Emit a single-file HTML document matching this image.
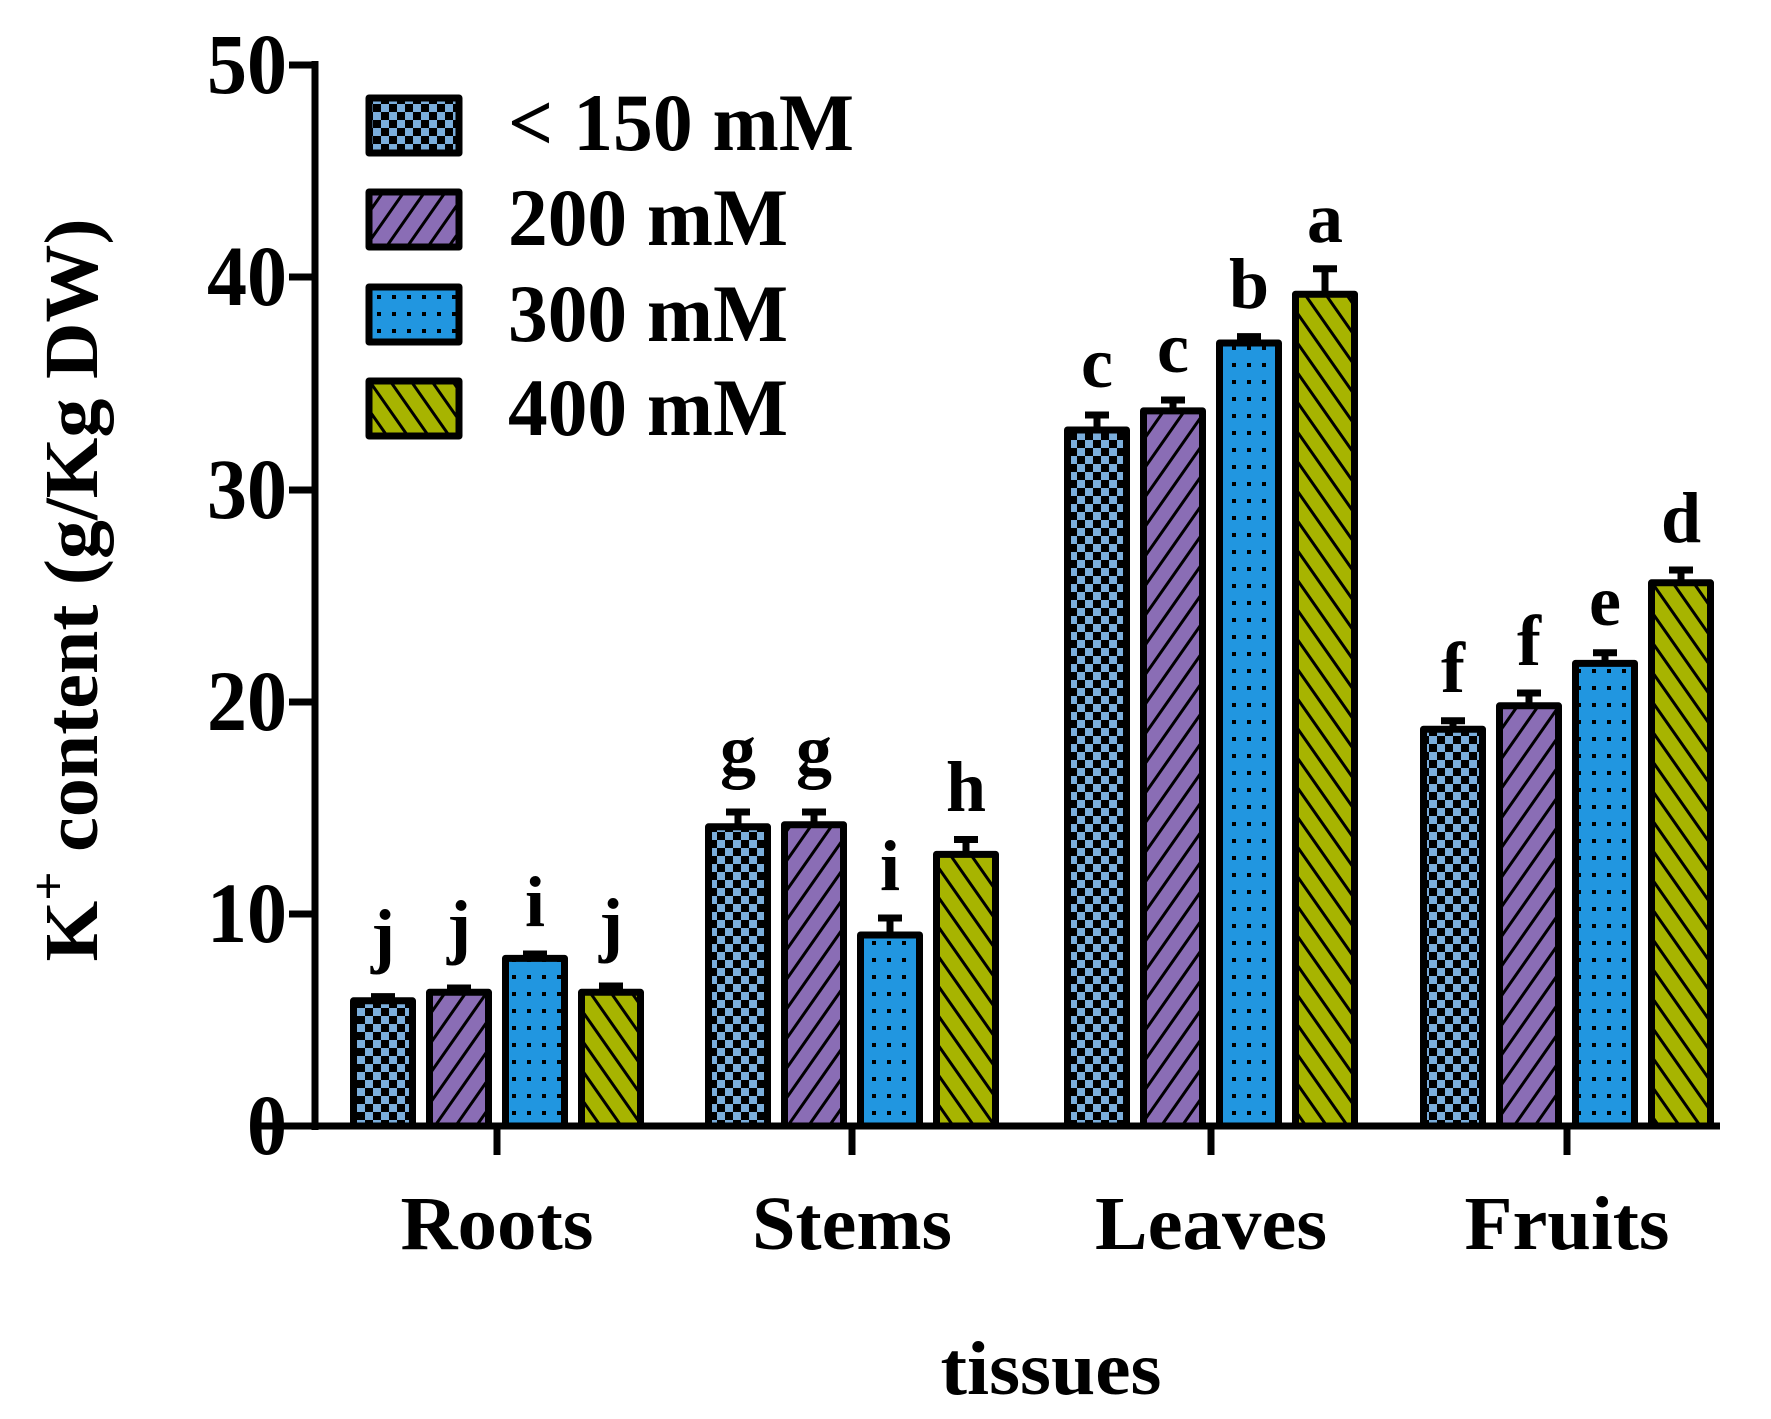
<!DOCTYPE html>
<html><head><meta charset="utf-8"><style>html,body{margin:0;padding:0;background:#fff}svg{display:block}</style></head><body>
<svg width="1771" height="1419" viewBox="0 0 1771 1419" xmlns="http://www.w3.org/2000/svg" font-family="'Liberation Serif',serif" font-weight="bold">
<defs>
<pattern id="chk" width="16" height="16" patternUnits="userSpaceOnUse"><rect width="16" height="16" fill="#7BAEDC"/><rect width="8" height="8" fill="#000"/><rect x="8" y="8" width="8" height="8" fill="#000"/></pattern>
<pattern id="fw" width="17" height="17" patternUnits="userSpaceOnUse" patternTransform="rotate(35)"><rect width="17" height="17" fill="#8A6DB5"/><rect width="3" height="17" fill="#000"/></pattern>
<pattern id="dot" width="15" height="17" patternUnits="userSpaceOnUse"><rect width="15" height="17" fill="#2196E0"/><rect x="5" y="6" width="4" height="4" fill="#000"/></pattern>
<pattern id="bw" width="17" height="17" patternUnits="userSpaceOnUse" patternTransform="rotate(-35)"><rect width="17" height="17" fill="#A7B400"/><rect width="3" height="17" fill="#000"/></pattern>
</defs>
<g transform="translate(-3,0)">
<g stroke="#000" stroke-width="7">
<line x1="318" y1="61" x2="318" y2="1130"/>
<line x1="260" y1="1126" x2="1723" y2="1126"/>
<line x1="292" y1="65" x2="318" y2="65"/>
<line x1="292" y1="277" x2="318" y2="277"/>
<line x1="292" y1="490" x2="318" y2="490"/>
<line x1="292" y1="702" x2="318" y2="702"/>
<line x1="292" y1="914" x2="318" y2="914"/>
<line x1="500" y1="1126" x2="500" y2="1155"/>
<line x1="855" y1="1126" x2="855" y2="1155"/>
<line x1="1214" y1="1126" x2="1214" y2="1155"/>
<line x1="1570" y1="1126" x2="1570" y2="1155"/>
</g>
<g font-size="86" text-anchor="end">
<text x="290" y="93" textLength="80" lengthAdjust="spacingAndGlyphs">50</text>
<text x="290" y="305" textLength="80" lengthAdjust="spacingAndGlyphs">40</text>
<text x="290" y="518" textLength="80" lengthAdjust="spacingAndGlyphs">30</text>
<text x="290" y="730" textLength="80" lengthAdjust="spacingAndGlyphs">20</text>
<text x="290" y="942" textLength="80" lengthAdjust="spacingAndGlyphs">10</text>
<text x="290" y="1154" textLength="40" lengthAdjust="spacingAndGlyphs">0</text>
</g>
<g stroke="#000" stroke-width="7" stroke-linejoin="round">
<path d="M386 1000V996.6M374 996.6H398M462 992V988M450 988H474M538 958V954M526 954H550M614 992V986M602 986H626
M741 826V812M729 812H753M817 824V812M805 812H829M893 935V918M881 918H905M969 854V839.5M957 839.5H981
M1100 430V415M1088 415H1112M1176 411V400M1164 400H1188M1252 343V336.6M1240 336.6H1264M1328 294V268.7M1316 268.7H1340
M1456 729V720.7M1444 720.7H1468M1532 706V693M1520 693H1544M1608 663V652.8M1596 652.8H1620M1684 583V570M1672 570H1696" fill="none"/>
<rect x="356.5" y="1000.8" width="59" height="125.2" fill="url(#chk)"/>
<rect x="432.5" y="992.3" width="59" height="133.7" fill="url(#fw)"/>
<rect x="508.5" y="958.4" width="59" height="167.6" fill="url(#dot)"/>
<rect x="584.5" y="992.3" width="59" height="133.7" fill="url(#bw)"/>
<rect x="711.5" y="826.8" width="59" height="299.2" fill="url(#chk)"/>
<rect x="787.5" y="824.7" width="59" height="301.3" fill="url(#fw)"/>
<rect x="863.5" y="935" width="59" height="191" fill="url(#dot)"/>
<rect x="939.5" y="854.4" width="59" height="271.6" fill="url(#bw)"/>
<rect x="1070.5" y="430" width="59" height="696" fill="url(#chk)"/>
<rect x="1146.5" y="410.9" width="59" height="715.1" fill="url(#fw)"/>
<rect x="1222.5" y="343" width="59" height="783" fill="url(#dot)"/>
<rect x="1298.5" y="294.2" width="59" height="831.8" fill="url(#bw)"/>
<rect x="1426.5" y="729.2" width="59" height="396.8" fill="url(#chk)"/>
<rect x="1502.5" y="705.8" width="59" height="420.2" fill="url(#fw)"/>
<rect x="1578.5" y="663.4" width="59" height="462.6" fill="url(#dot)"/>
<rect x="1654.5" y="582.8" width="59" height="543.2" fill="url(#bw)"/>
<rect x="372" y="98" width="90" height="55" fill="url(#chk)"/>
<rect x="372" y="192" width="90" height="55" fill="url(#fw)"/>
<rect x="372" y="287" width="90" height="55" fill="url(#dot)"/>
<rect x="372" y="381" width="90" height="55" fill="url(#bw)"/>
</g>
<g font-size="82">
<text x="511" y="150" textLength="346" lengthAdjust="spacingAndGlyphs">&lt; 150 mM</text>
<text x="511" y="245" textLength="280" lengthAdjust="spacingAndGlyphs">200 mM</text>
<text x="511" y="341" textLength="280" lengthAdjust="spacingAndGlyphs">300 mM</text>
<text x="511" y="435" textLength="280" lengthAdjust="spacingAndGlyphs">400 mM</text>
</g>
<g font-size="72" text-anchor="middle">
<text x="386" y="959">j</text><text x="462" y="950">j</text><text x="538" y="926">i</text><text x="614" y="948">j</text>
<text x="741" y="774">g</text><text x="817" y="774">g</text><text x="893" y="890">i</text><text x="969" y="811">h</text>
<text x="1100" y="387">c</text><text x="1176" y="372">c</text><text x="1252" y="308">b</text><text x="1328" y="242">a</text>
<text x="1456" y="692">f</text><text x="1532" y="665">f</text><text x="1608" y="625">e</text><text x="1684" y="542">d</text>
</g>
<g font-size="76" text-anchor="middle">
<text x="500" y="1249" textLength="193" lengthAdjust="spacingAndGlyphs">Roots</text>
<text x="855" y="1249" textLength="200" lengthAdjust="spacingAndGlyphs">Stems</text>
<text x="1214" y="1249" textLength="232" lengthAdjust="spacingAndGlyphs">Leaves</text>
<text x="1570" y="1249" textLength="205" lengthAdjust="spacingAndGlyphs">Fruits</text>
<text x="1054" y="1394" textLength="221" lengthAdjust="spacingAndGlyphs">tissues</text>
</g>
<text transform="translate(100,590) rotate(-90)" font-size="76" text-anchor="middle" textLength="743" lengthAdjust="spacingAndGlyphs">K<tspan font-size="50" dy="-32">+</tspan><tspan dy="32"> content (g/Kg DW)</tspan></text>
</g>
</svg>
</body></html>
